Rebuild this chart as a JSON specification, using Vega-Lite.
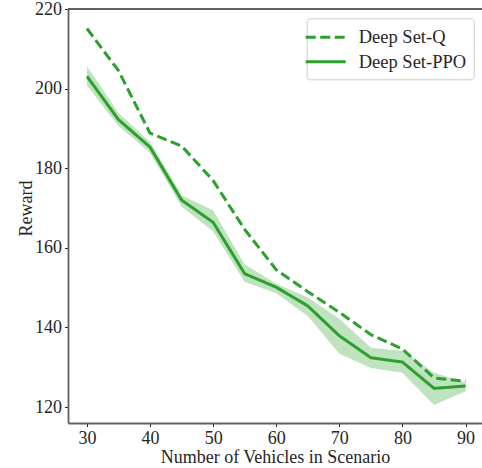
{
  "$schema": "https://vega.github.io/schema/vega-lite/v6.json",
  "width": 414,
  "height": 414,
  "autosize": {"type": "none"},
  "padding": {"left": 68, "top": 9, "right": 0, "bottom": 45},
  "background": "white",
  "config": {
    "view": {"stroke": null},
    "font": "Liberation Serif",
    "axis": {
      "grid": false,
      "domainColor": "#606060",
      "domainWidth": 1.8,
      "tickColor": "#222222",
      "tickSize": 3.5,
      "tickWidth": 1,
      "labelFont": "Liberation Serif",
      "labelFontSize": 18,
      "labelColor": "#262626",
      "titleFont": "Liberation Serif",
      "titleFontSize": 18,
      "titleFontWeight": "normal",
      "titleColor": "#262626"
    }
  },
  "datasets": {
    "main": [
      {"n": 30, "series": "Deep Set-Q", "reward": 215.1},
      {"n": 35, "series": "Deep Set-Q", "reward": 204.5},
      {"n": 40, "series": "Deep Set-Q", "reward": 188.8},
      {"n": 45, "series": "Deep Set-Q", "reward": 185.6},
      {"n": 50, "series": "Deep Set-Q", "reward": 176.9},
      {"n": 55, "series": "Deep Set-Q", "reward": 164.6},
      {"n": 60, "series": "Deep Set-Q", "reward": 154.5},
      {"n": 65, "series": "Deep Set-Q", "reward": 149.0},
      {"n": 70, "series": "Deep Set-Q", "reward": 143.8},
      {"n": 75, "series": "Deep Set-Q", "reward": 138.2},
      {"n": 80, "series": "Deep Set-Q", "reward": 134.6},
      {"n": 85, "series": "Deep Set-Q", "reward": 127.3},
      {"n": 90, "series": "Deep Set-Q", "reward": 126.5},
      {"n": 30, "series": "Deep Set-PPO", "reward": 203.1, "lo": 200.8, "hi": 205.7},
      {"n": 35, "series": "Deep Set-PPO", "reward": 192.2, "lo": 190.6, "hi": 193.9},
      {"n": 40, "series": "Deep Set-PPO", "reward": 185.3, "lo": 183.9, "hi": 186.6},
      {"n": 45, "series": "Deep Set-PPO", "reward": 172.0, "lo": 170.4, "hi": 173.2},
      {"n": 50, "series": "Deep Set-PPO", "reward": 166.4, "lo": 164.1, "hi": 169.4},
      {"n": 55, "series": "Deep Set-PPO", "reward": 153.5, "lo": 151.4, "hi": 155.8},
      {"n": 60, "series": "Deep Set-PPO", "reward": 150.1, "lo": 148.6, "hi": 151.0},
      {"n": 65, "series": "Deep Set-PPO", "reward": 145.4, "lo": 142.9, "hi": 147.5},
      {"n": 70, "series": "Deep Set-PPO", "reward": 137.9, "lo": 133.4, "hi": 142.2},
      {"n": 75, "series": "Deep Set-PPO", "reward": 132.4, "lo": 129.8, "hi": 134.9},
      {"n": 80, "series": "Deep Set-PPO", "reward": 131.3, "lo": 128.6, "hi": 134.1},
      {"n": 85, "series": "Deep Set-PPO", "reward": 124.7, "lo": 120.5, "hi": 128.6},
      {"n": 90, "series": "Deep Set-PPO", "reward": 125.3, "lo": 124.0, "hi": 126.2}
    ]
  },
  "data": {"name": "main"},
  "layer": [
    {
      "transform": [{"filter": "datum.series === 'Deep Set-PPO'"}],
      "mark": {"type": "area", "color": "#2ca02c", "opacity": 0.3},
      "encoding": {
        "x": {"field": "n", "type": "quantitative", "scale": {"domain": [27, 92.6], "nice": false, "zero": false}},
        "y": {"field": "lo", "type": "quantitative", "scale": {"domain": [116, 220], "nice": false, "zero": false}},
        "y2": {"field": "hi"}
      }
    },
    {
      "mark": {"type": "line", "color": "#2ca02c", "strokeWidth": 3, "strokeJoin": "round", "strokeCap": "butt"},
      "encoding": {
        "x": {
          "field": "n", "type": "quantitative",
          "scale": {"domain": [27, 92.6], "nice": false, "zero": false},
          "axis": {
            "values": [30, 40, 50, 60, 70, 80, 90],
            "labelPadding": 3,
            "title": "Number of Vehicles in Scenario",
            "titleX": 207,
            "titleY": 39.5,
            "titleBaseline": "alphabetic",
            "titleAlign": "center"
          }
        },
        "y": {
          "field": "reward", "type": "quantitative",
          "scale": {"domain": [116, 220], "nice": false, "zero": false},
          "axis": {
            "values": [120, 140, 160, 180, 200, 220],
            "labelPadding": 3,
            "title": "Reward",
            "titleX": -37,
            "titleY": 199,
            "titleAngle": -90,
            "titleBaseline": "alphabetic",
            "titleAlign": "center"
          }
        },
        "strokeDash": {
          "field": "series", "type": "nominal",
          "scale": {"domain": ["Deep Set-Q", "Deep Set-PPO"], "range": [[10, 4.5], [1, 0]]},
          "legend": {
            "title": null,
            "orient": "none",
            "legendX": 238.7,
            "legendY": 9.3,
            "symbolType": "M-2,0H2",
            "symbolSize": 400,
            "symbolStrokeWidth": 3,
            "symbolStrokeColor": "#2ca02c",
            "symbolFillColor": "transparent",
            "labelFont": "Liberation Serif",
            "labelFontSize": 18.5,
            "labelColor": "#262626",
            "labelOffset": 21.5,
            "rowPadding": 3.5,
            "padding": 7.5,
            "fillColor": "white",
            "strokeColor": "#cccccc",
            "cornerRadius": 3
          }
        }
      }
    },
    {
      "mark": {"type": "rule", "color": "#606060", "strokeWidth": 1.8},
      "encoding": {"y": {"datum": 220, "type": "quantitative"}}
    }
  ]
}
